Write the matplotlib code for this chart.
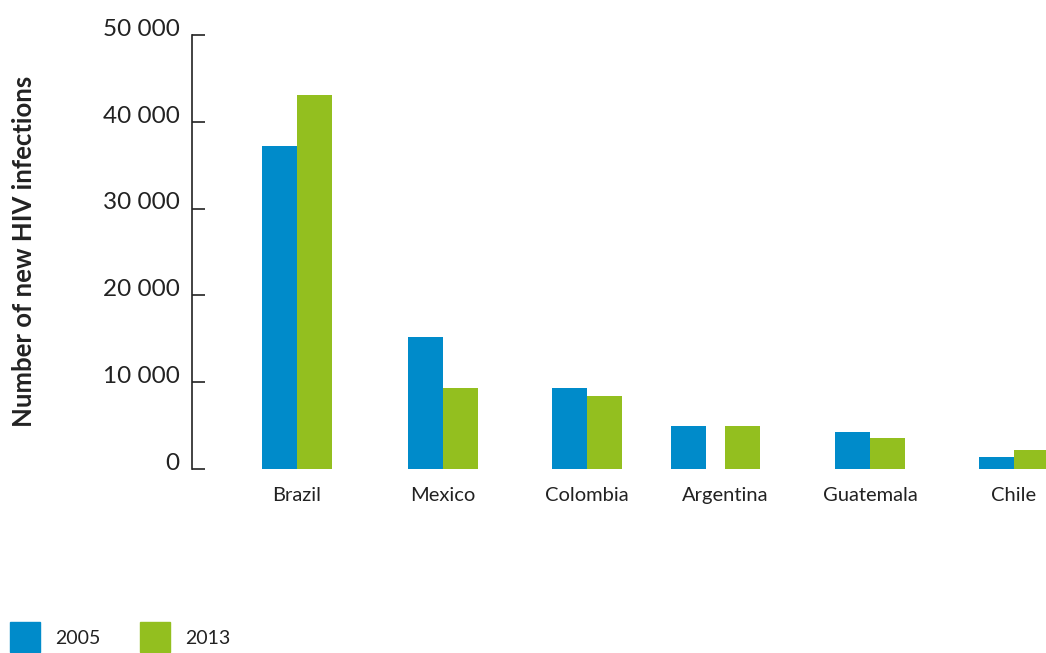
import matplotlib.pyplot as plt
from matplotlib.patches import Rectangle

countries = ["Brazil", "Mexico", "Colombia", "Argentina", "Guatemala", "Chile"]
infections_2005 = [37200, 15200, 9300, 4950, 4250, 1400]
infections_2013 = [43100, 9300, 8400, 4950, 3550, 2200]
years = ["2005", "2013"]
y_ticks = [0, 10000, 20000, 30000, 40000, 50000]

blue = "#008bca"
green = "#93bf1f"
plt.rcParams["font.family"] = ["Lato", "DejaVu Sans"]

fig = plt.figure(figsize=(10.46, 6.53), dpi=100)
ax = fig.add_axes([192 / 1046, 184 / 653, 854 / 1046, 434 / 653])

width = 0.244
# category spacing is a little uneven in the original,
# and Argentina's bars stand apart and sit left of its label
pos = [0, 1.015, 2.02, 2.98, 3.99, 4.99]
shift = [0, 0, 0, -0.065, 0, 0]
extra_gap = [0, 0, 0, 0.13, 0, 0]
for i in range(len(countries)):
    c = pos[i] + shift[i]
    off = width / 2 + extra_gap[i] / 2
    ax.bar(c - off, infections_2005[i], width, color=blue)
    ax.bar(c + off, infections_2013[i], width, color=green)

ax.set_xlim(-0.731, 5.216)
ax.set_ylim(0, 50000)
ax.set_xticks(pos)
ax.set_xticklabels(countries, fontsize=14.5, color="#222222")
ax.tick_params(axis="x", length=0, pad=13)

ax.set_yticks(y_ticks)
ax.set_yticklabels([])
ax.tick_params(axis="y", direction="in", length=9, width=1.2, color="#222222")
for t in y_ticks:
    ax.text(-0.0145, t + 650, f"{t:,}".replace(",", " "),
            transform=ax.get_yaxis_transform(), ha="right", va="center",
            fontsize=17.5, color="#222222")

for side in ["top", "right", "bottom"]:
    ax.spines[side].set_visible(False)
ax.spines["left"].set_linewidth(1.2)
ax.spines["left"].set_color("#222222")

fig.text(24 / 1046, 0.615, "Number of new HIV infections", rotation=90,
         ha="center", va="center", fontsize=18.5, fontweight="bold",
         color="#222222")

# legend at the bottom left
for j, (label, col) in enumerate(zip(years, [blue, green])):
    x0 = (10 + 130 * j) / 1046
    fig.patches.append(Rectangle((x0, 1 / 653), 30 / 1046, 30 / 653,
                                 transform=fig.transFigure, color=col))
    fig.text(x0 + 45 / 1046, 14 / 653, label, ha="left", va="center",
             fontsize=14, color="#222222")

fig.savefig("out.png", dpi=100)
